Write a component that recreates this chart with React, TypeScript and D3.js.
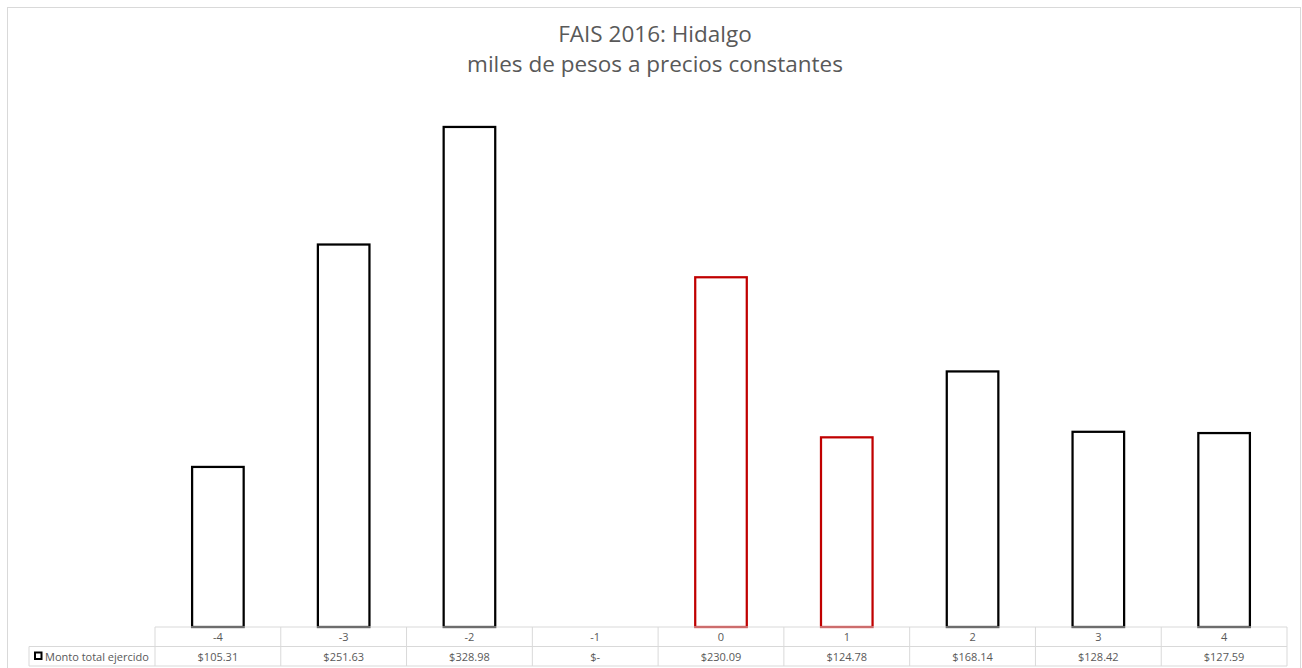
import React from "react";
import * as d3 from "d3";

const categories = ["-4", "-3", "-2", "-1", "0", "1", "2", "3", "4"];
const values = [105.31, 251.63, 328.98, 0, 230.09, 124.78, 168.14, 128.42, 127.59];
const labels = ["$105.31", "$251.63", "$328.98", "$-", "$230.09", "$124.78", "$168.14", "$128.42", "$127.59"];
const highlighted = ["0", "1"];
const seriesName = "Monto total ejercido";
const titleLines = ["FAIS 2016: Hidalgo", "miles de pesos a precios constantes"];

const W = 1302;
const H = 668;
const plotLeft = 155;
const plotRight = 1287;
const plotBottom = 627;
const rowH = 19.5;
const legendLeft = 29;

export default function App() {
  const x = d3.scaleBand<string>().domain(categories).range([plotLeft, plotRight]).paddingInner(0.59).paddingOuter(0.295);
  const cell = d3.scaleBand<string>().domain(categories).range([plotLeft, plotRight]);
  const y = d3.scaleLinear().domain([0, 350]).range([plotBottom, plotBottom - 532]);
  const grid = "#d9d9d9";
  const txt = "#595959";
  const font = "'Open Sans', 'Liberation Sans', sans-serif";
  const r1 = plotBottom;
  const r2 = plotBottom + rowH;
  const r3 = plotBottom + rowH * 2;
  return (
    <svg width={W} height={H} style={{ position: "absolute", left: 0, top: 0, background: "#fff" }} fontFamily={font}>
      <rect x={7.5} y={7.5} width={1293} height={700} fill="#fff" stroke={grid} strokeWidth={1} />
      <text x={655} y={42} textAnchor="middle" fontSize={22.5} fill={txt}>{titleLines[0]}</text>
      <text x={655} y={71.5} textAnchor="middle" fontSize={22.5} fill={txt}>{titleLines[1]}</text>
      {categories.map((c, i) => {
        const v = values[i];
        if (v <= 0) return null;
        const hl = highlighted.includes(c);
        return (
          <rect key={c} x={x(c)! } y={y(v)} width={x.bandwidth()} height={y(0) - y(v)}
            fill="#fff" stroke={hl ? "#C00000" : "#000"} strokeWidth={2.25} />
        );
      })}
      {/* table grid */}
      <line x1={plotLeft} x2={plotRight} y1={r1} y2={r1} stroke={grid} />
      <line x1={legendLeft} x2={plotRight} y1={r2} y2={r2} stroke={grid} />
      <line x1={legendLeft} x2={plotRight} y1={r3} y2={r3} stroke={grid} />
      <line x1={legendLeft} x2={legendLeft} y1={r2} y2={r3} stroke={grid} />
      {categories.map((c) => (
        <line key={"v" + c} x1={cell(c)!} x2={cell(c)!} y1={r1} y2={r3} stroke={grid} />
      ))}
      <line x1={plotRight} x2={plotRight} y1={r1} y2={r3} stroke={grid} />
      {categories.map((c, i) => (
        <g key={"t" + c}>
          <text x={cell(c)! + cell.bandwidth() / 2} y={r1 + 14} textAnchor="middle" fontSize={11} fill={txt}>{c}</text>
          <text x={cell(c)! + cell.bandwidth() / 2} y={r2 + 14} textAnchor="middle" fontSize={11} fill={txt}>{labels[i]}</text>
        </g>
      ))}
      <rect x={35} y={r2 + 6} width={6.5} height={6.5} fill="#fff" stroke="#000" strokeWidth={2} />
      <text x={45} y={r2 + 14} fontSize={11} fill={txt}>{seriesName}</text>
    </svg>
  );
}
